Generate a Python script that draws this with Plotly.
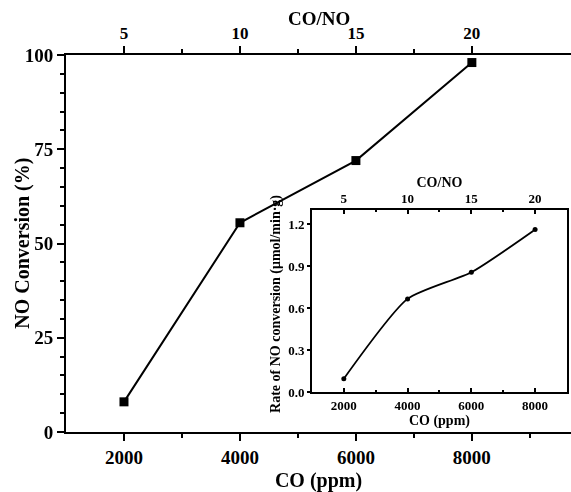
import plotly.graph_objects as go

co_ppm = [2000, 4000, 6000, 8000]
co_no = [5, 10, 15, 20]
no_conversion = [8, 55.5, 72, 98]
rate = [0.095, 0.665, 0.855, 1.16]

FONT = "Liberation Serif"
fig = go.Figure()

fig.add_trace(go.Scatter(x=co_ppm, y=no_conversion, mode="lines+markers",
                         line=dict(color="black", width=2),
                         marker=dict(symbol="square", size=9, color="black"),
                         xaxis="x", yaxis="y", showlegend=False))
fig.add_trace(go.Scatter(x=co_no, y=no_conversion, mode="markers", opacity=0,
                         xaxis="x2", yaxis="y", showlegend=False, hoverinfo="skip"))
fig.add_trace(go.Scatter(x=co_ppm, y=rate, mode="lines+markers",
                         line=dict(color="black", width=1.8, shape="spline", smoothing=0.6),
                         marker=dict(symbol="circle", size=5, color="black"),
                         xaxis="x3", yaxis="y3", showlegend=False))
fig.add_trace(go.Scatter(x=co_no, y=rate, mode="markers", opacity=0,
                         xaxis="x4", yaxis="y3", showlegend=False, hoverinfo="skip"))

main_range = [1000, 9710]
inset_range = [1000, 9000]
bold = lambda s: dict(family=FONT, size=s, color="black", weight="bold")

fig.update_layout(
    width=571, height=492,
    margin=dict(l=66, r=0, t=55, b=60),
    plot_bgcolor="white", paper_bgcolor="white",
    font=dict(family=FONT, color="black"),
    xaxis=dict(domain=[0, 1], range=main_range, tickvals=co_ppm,
               ticks="outside", ticklen=7, tickwidth=2, tickcolor="black",
               showline=True, linecolor="black", linewidth=2, showgrid=False, zeroline=False,
               minor=dict(tickvals=[3000, 5000, 7000, 9000], ticks="outside", ticklen=4, tickwidth=2, tickcolor="black"),
               tickfont=bold(19),
               title=dict(text="<b>CO (ppm)</b>", font=bold(20), standoff=6)),
    xaxis2=dict(overlaying="x", side="top", anchor="y", range=[r / 400 for r in main_range],
                tickvals=co_no, ticks="outside", ticklen=7, tickwidth=2, tickcolor="black",
                showline=True, linecolor="black", linewidth=2, showgrid=False, zeroline=False,
                minor=dict(tickvals=[7.5, 12.5, 17.5], ticks="outside", ticklen=4, tickwidth=2, tickcolor="black"),
                tickfont=bold(17)),
    yaxis=dict(domain=[0, 1], range=[0, 100], tickvals=[0, 25, 50, 75, 100],
               ticks="outside", ticklen=7, tickwidth=2, tickcolor="black",
               showline=True, linecolor="black", linewidth=2, showgrid=False, zeroline=False,
               minor=dict(dtick=5, ticks="outside", ticklen=4, tickwidth=2, tickcolor="black"),
               tickfont=bold(19)),
    xaxis3=dict(domain=[0.487, 0.992], anchor="y3", range=inset_range, tickvals=co_ppm,
                ticks="inside", ticklen=4, tickwidth=1.5, tickcolor="black",
                showline=True, linecolor="black", linewidth=1.8, showgrid=False, zeroline=False,
                minor=dict(tickvals=[3000, 5000, 7000], ticks="inside", ticklen=2, tickwidth=1.5, tickcolor="black"),
                tickfont=bold(13),
                title=dict(text="<b>CO (ppm)</b>", font=bold(14), standoff=0)),
    xaxis4=dict(overlaying="x3", side="top", anchor="y3", range=[r / 400 for r in inset_range],
                tickvals=co_no, ticks="inside", ticklen=4, tickwidth=1.5, tickcolor="black",
                showline=True, linecolor="black", linewidth=1.8, showgrid=False, zeroline=False,
                minor=dict(tickvals=[7.5, 12.5, 17.5], ticks="inside", ticklen=2, tickwidth=1.5, tickcolor="black"),
                tickfont=bold(13),
                title=dict(text="<b>CO/NO</b>", font=bold(14), standoff=0)),
    yaxis3=dict(domain=[0.106, 0.589], anchor="x3", range=[0, 1.3],
                tickvals=[0, 0.3, 0.6, 0.9, 1.2], ticktext=["0.0", "0.3", "0.6", "0.9", "1.2"],
                ticks="outside", ticklen=3, tickwidth=1.5, tickcolor="black",
                showline=True, linecolor="black", linewidth=1.8, mirror=True, showgrid=False, zeroline=False,
                tickfont=bold(13)),
    annotations=[
        dict(text="<b>NO Conversion (%)</b>", textangle=-90, xref="paper", yref="paper",
             x=-0.086, y=0.501, xanchor="center", yanchor="middle", showarrow=False, font=bold(20)),
        dict(text="<b>CO/NO</b>", xref="paper", yref="paper",
             x=0.5, y=1.098, xanchor="center", yanchor="middle", showarrow=False, font=bold(19)),
        dict(text="<b>Rate of NO conversion (μmol/min·g)</b>", textangle=-90, xref="paper", yref="paper",
             x=0.416, y=0.34, xanchor="center", yanchor="middle", showarrow=False, font=bold(14)),
    ],
)

fig.write_html("out.html")
